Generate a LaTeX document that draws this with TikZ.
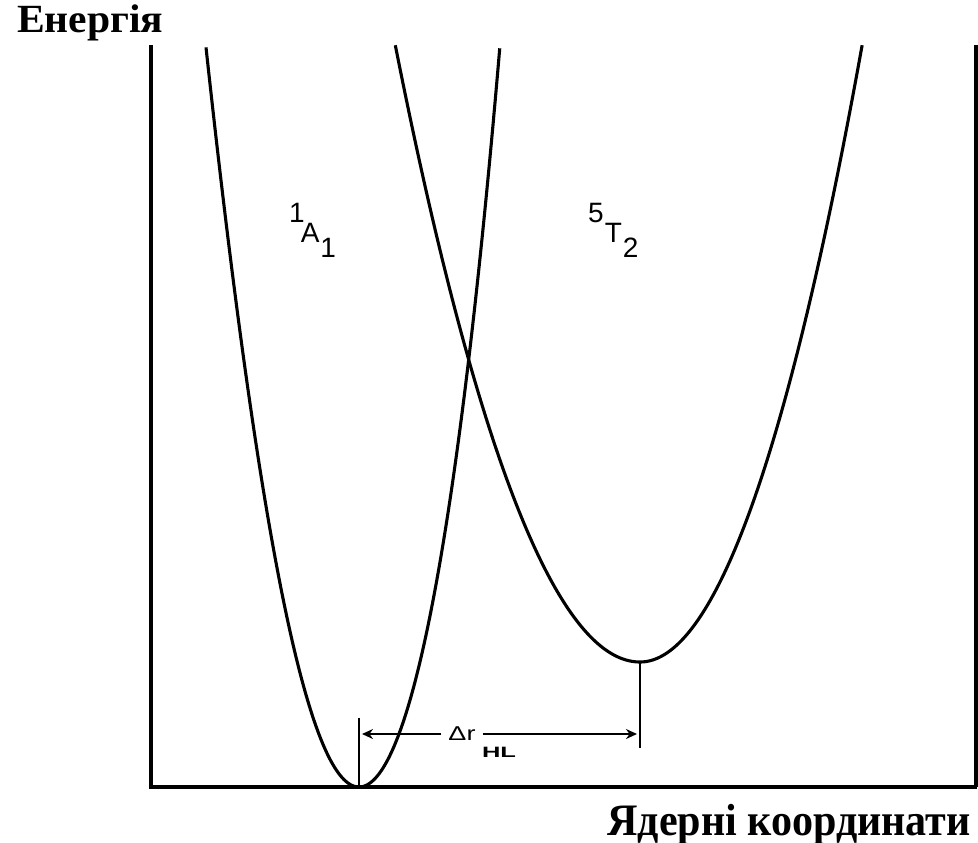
\documentclass[tikz,border=0pt]{standalone}
\usepackage{fontspec}
\setmainfont{Liberation Serif}
\setsansfont{Liberation Sans}
\usetikzlibrary{arrows.meta}
\begin{document}
\begin{tikzpicture}[x=1pt,y=-1pt,
  curve/.style={line width=3.1pt, line join=round},
  axis/.style={line width=3.2pt, line join=miter},
  tickline/.style={line width=2.6pt},
  dimarrow/.style={line width=2.6pt,-{Stealth[length=11pt,width=10pt]}},
  titlelabel/.style={inner sep=0pt, font=\bfseries\fontsize{40}{42}\selectfont},
  axislabel/.style={inner sep=0pt, font=\bfseries\fontsize{45}{48}\selectfont},
  statelabel/.style={inner sep=0pt, font=\sffamily\fontsize{28}{30}\selectfont},
  dimlabel/.style={inner sep=0pt, font=\sffamily\fontsize{20}{22}\selectfont}]
\useasboundingbox (0,0) rectangle (978,843);
\fill[white] (0,0) rectangle (978,843);
% axes
\coordinate (ytop) at (151,45);
\coordinate (origin) at (151,787);
\coordinate (xend) at (977,787);
\coordinate (rtop) at (976,45);
\coordinate (rbot) at (976,787);
\draw[axis] (ytop) -- (origin) -- (xend);
\draw[axis] (rtop) -- (rbot);
% potential curves
\draw[curve] plot[samples=220, domain=-1.53:1.41]
  ({359+100*\x},{787-(\x<0 ? 330*\x*\x-6*\x*\x*\x*\x : 328*\x*\x+22.7*\x*\x*\x*\x)});
\draw[curve] plot[samples=220, domain=-2.447:2.222]
  ({640+100*\x},{662-(\x<0 ? 103*\x*\x : 125*\x*\x)});
% minima ticks
\coordinate (min1) at (359,787);
\coordinate (tick1) at (359,718);
\coordinate (min2) at (640,662);
\coordinate (tick2) at (640,748);
\draw[tickline] (min1) -- (tick1);
\draw[tickline] (min2) -- (tick2);
% dimension arrow
\node[dimlabel, inner xsep=7pt] (dr) at (462,734) {\scalebox{1.35}[1]{Δr}};
\node[dimlabel, font=\sffamily\bfseries\fontsize{15}{17}\selectfont] (hl) at (499,752) {\scalebox{1.7}[1]{HL}};
\coordinate (tipL) at (362,734);
\coordinate (tipR) at (637,734);
\draw[dimarrow] (dr.west) -- (tipL);
\draw[dimarrow] (dr.east) -- (tipR);
% state labels
\node[statelabel, anchor=base west] (a1) at (289,242)
  {\raisebox{20pt}{1}\kern-4pt A\kern1pt\raisebox{-15pt}{1}};
\node[statelabel, anchor=base west] (t2) at (588,242)
  {\raisebox{20pt}{5}\kern1pt T\kern1pt\raisebox{-15pt}{2}};
% axis titles
\node[titlelabel, anchor=base west] (energy) at (17,33) {\scalebox{1.04}[1]{Енергія}};
\node[axislabel, anchor=base east] (coord) at (971,835) {\scalebox{0.935}[1]{Ядерні координати}};
\end{tikzpicture}
\end{document}
